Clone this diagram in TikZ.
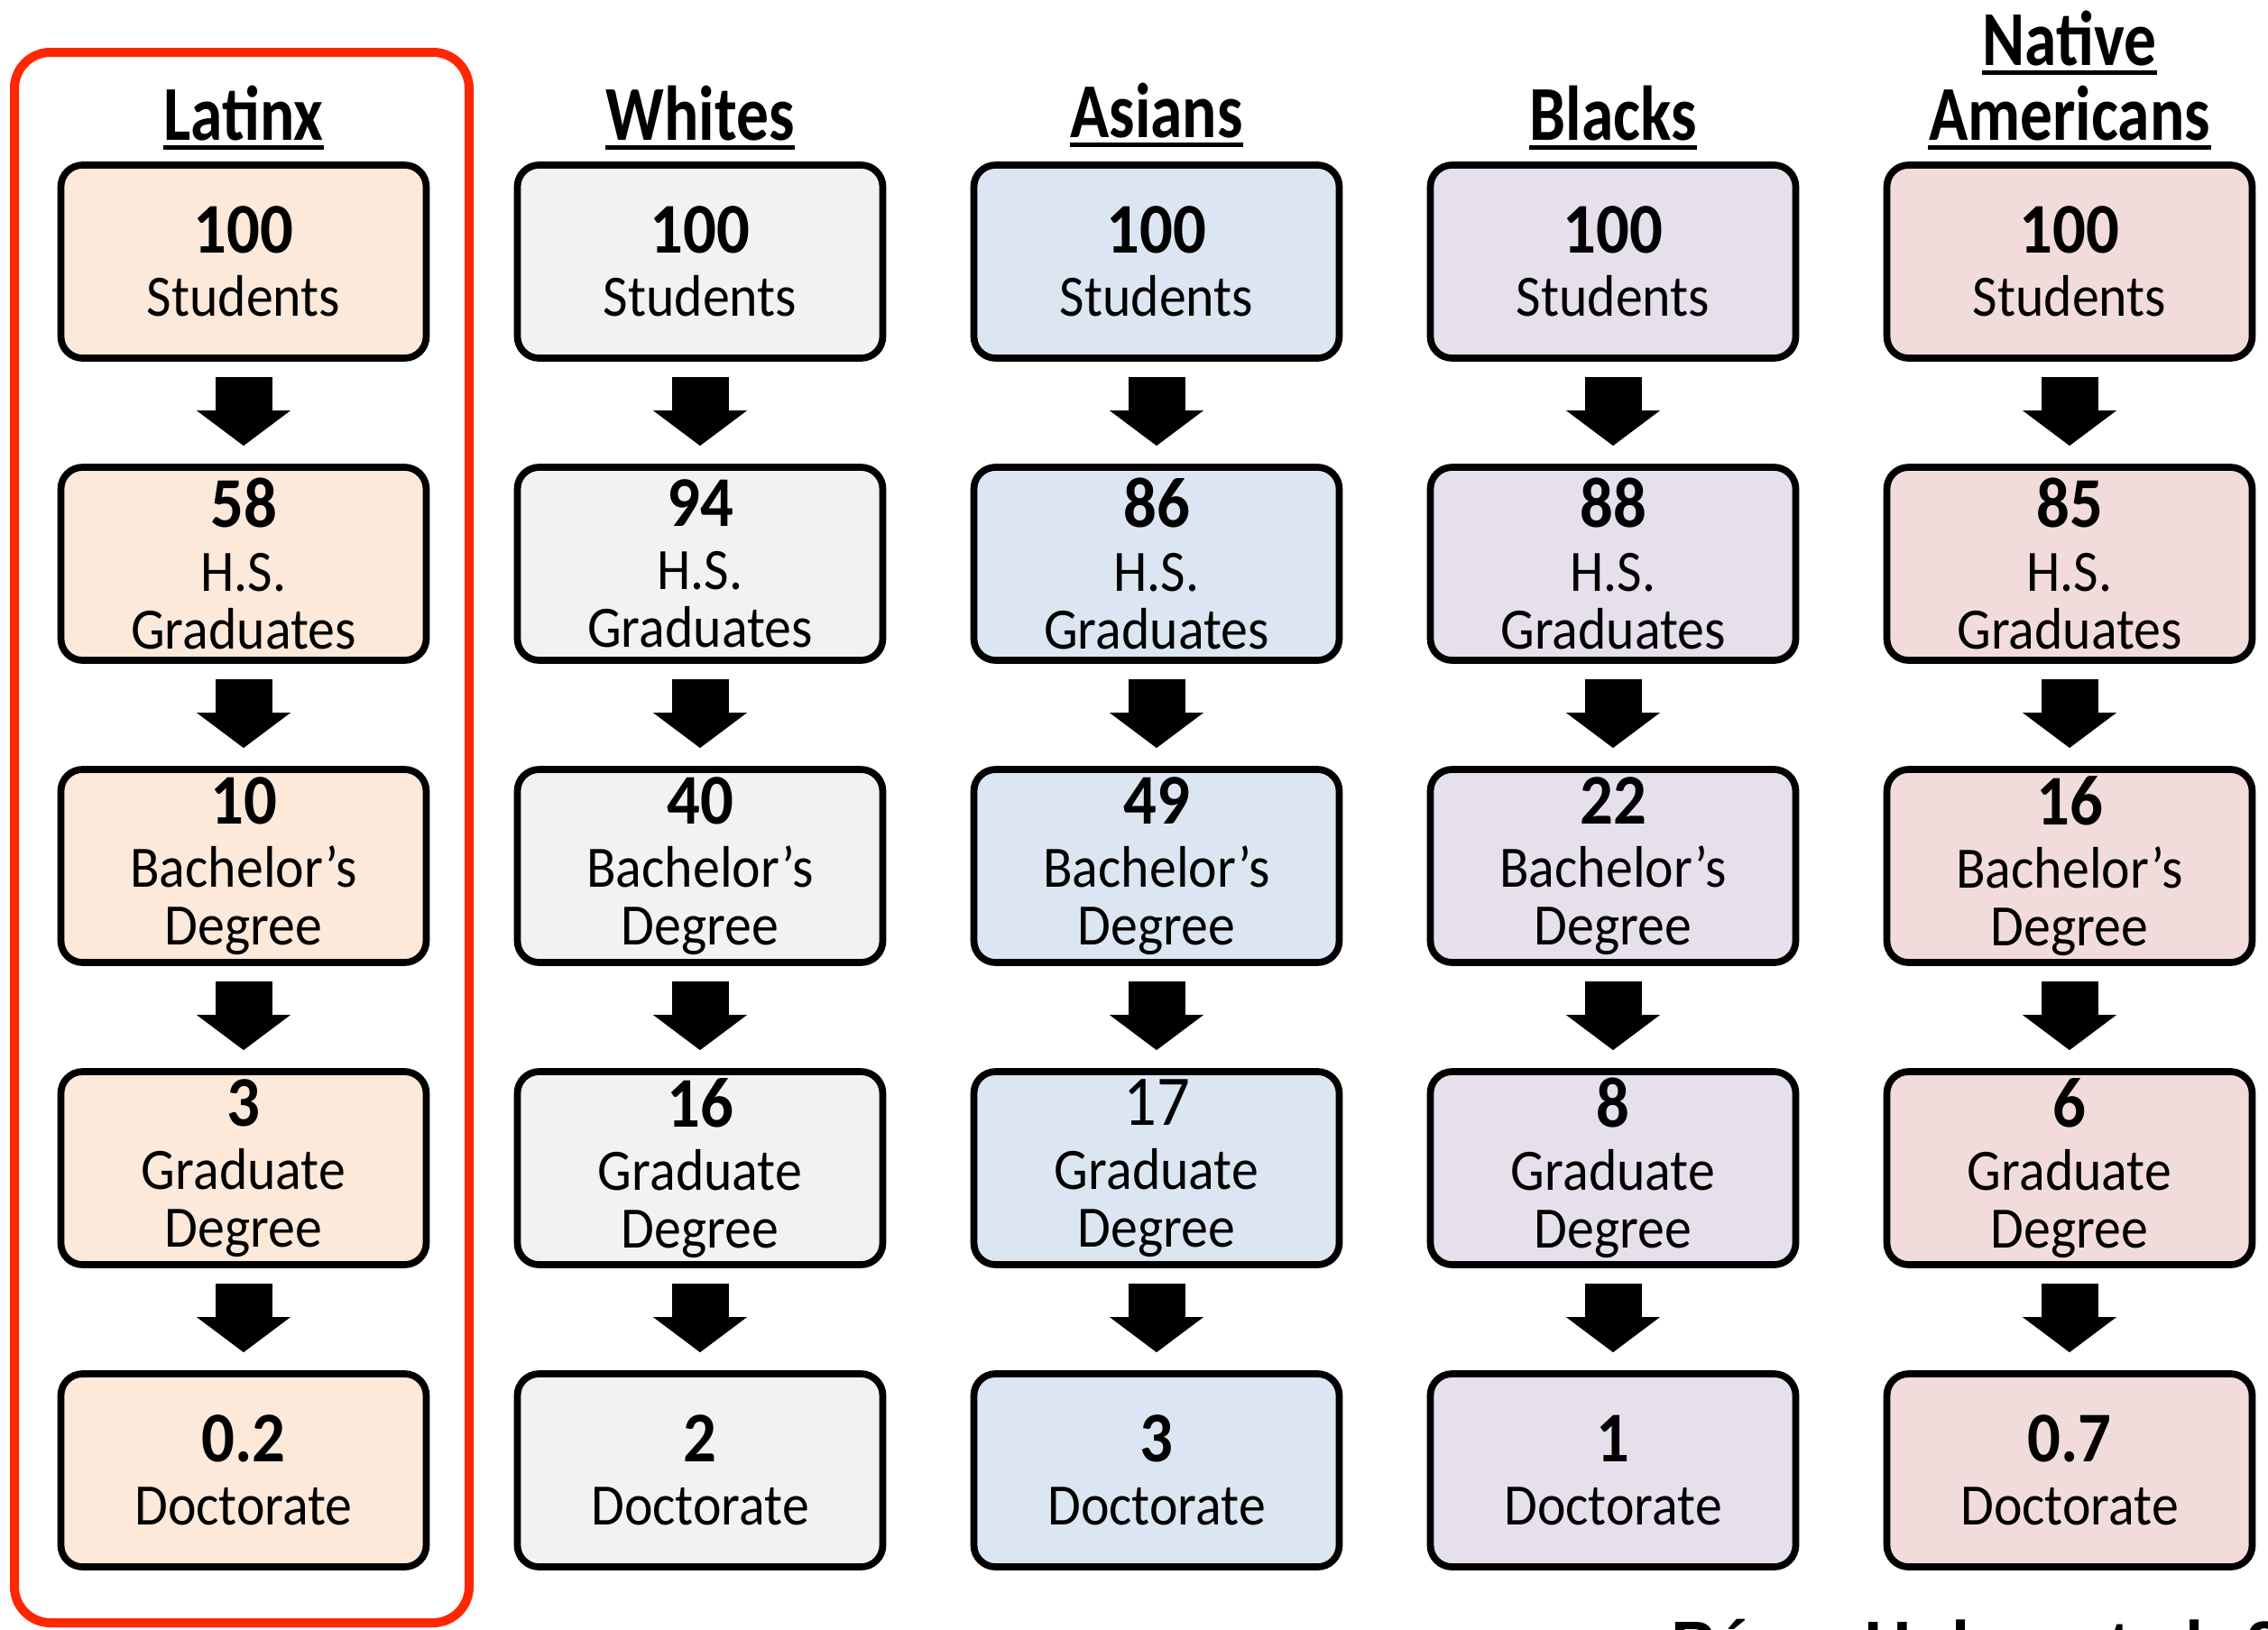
\documentclass[tikz,border=0pt]{standalone}
\usepackage{fontspec}
\usepackage{xcolor}
\usepackage{tikz}
\usetikzlibrary{arrows.meta}

\setmainfont{Carlito}
\newfontfamily\headfont{Carlito}[FakeStretch=0.83]
\newfontfamily\boxfont{Carlito}[FakeStretch=0.92]
\newfontfamily\citefont{Liberation Sans}

\definecolor{latinxfill}{HTML}{FDE9D9}
\definecolor{whitesfill}{HTML}{F2F2F2}
\definecolor{asiansfill}{HTML}{DCE6F2}
\definecolor{blacksfill}{HTML}{E5E0EC}
\definecolor{nativefill}{HTML}{F2DCDB}
\definecolor{highlight}{HTML}{FF2600}

% number on top, label below
\newcommand{\stagetext}[3][\bfseries]{{\fontsize{22.5}{22.5}\selectfont#1#2}\\[1.8pt]#3}

\begin{document}
\begin{tikzpicture}
			\tikzstyle{stage}=[draw, line width=2.2pt, rounded corners=0.24cm, minimum width=4.05cm, minimum height=2.14cm, align=center, inner sep=0pt, font=\boxfont\fontsize{18.5}{18.2}\selectfont]
			\tikzstyle{group}=[inner sep=0pt, anchor=base, font=\headfont\bfseries\fontsize{24.5}{24.5}\selectfont]
			\tikzstyle{source}=[inner sep=0pt, anchor=base west, font=\citefont\bfseries\fontsize{20.7}{20.7}\selectfont]
			\tikzset{flow/.style = {line width=0.63cm, -{Triangle[width=1.04cm,length=0.39cm,line width=0pt]}}}
			\tikzset{underline/.style = {line width=1.4pt}}
			
			\useasboundingbox (0,0) rectangle (25.14,-18.07);
			
			% group headers
			\node[group](latinxhead) at (2.70,-1.55) {Latinx};
			\node[group](whiteshead) at (7.76,-1.55) {Whites};
			\node[group](asianshead) at (12.82,-1.52) {Asians};
			\node[group](blackshead) at (17.88,-1.55) {Blacks};
			\node[group](nativehead) at (22.94,-0.72) {Native};
			\node[group](americanshead) at (22.94,-1.55) {Americans};
			\draw[underline]([yshift=-2.4pt]latinxhead.base west) to ([yshift=-2.4pt]latinxhead.base east);
			\draw[underline]([yshift=-2.4pt]whiteshead.base west) to ([yshift=-2.4pt]whiteshead.base east);
			\draw[underline]([yshift=-2.4pt]asianshead.base west) to ([yshift=-2.4pt]asianshead.base east);
			\draw[underline]([yshift=-2.4pt]blackshead.base west) to ([yshift=-2.4pt]blackshead.base east);
			\draw[underline]([yshift=-2.4pt]nativehead.base west) to ([yshift=-2.4pt]nativehead.base east);
			\draw[underline]([yshift=-2.4pt]americanshead.base west) to ([yshift=-2.4pt]americanshead.base east);
			
			% Latinx
			\node[stage, fill=latinxfill](latinx1) at (2.70,-2.90) {\stagetext{100}{Students}};
			\node[stage, fill=latinxfill](latinx2) at (2.70,-6.25) {\stagetext{58}{H.S.\\Graduates}};
			\node[stage, fill=latinxfill](latinx3) at (2.70,-9.60) {\stagetext{10}{Bachelor’s\\Degree}};
			\node[stage, fill=latinxfill](latinx4) at (2.70,-12.95) {\stagetext{3}{Graduate\\Degree}};
			\node[stage, fill=latinxfill](latinx5) at (2.70,-16.30) {\stagetext{0.2}{Doctorate}};
			\draw[flow]([yshift=-0.17cm]latinx1.south) to ([yshift=0.20cm]latinx2.north);
			\draw[flow]([yshift=-0.17cm]latinx2.south) to ([yshift=0.20cm]latinx3.north);
			\draw[flow]([yshift=-0.17cm]latinx3.south) to ([yshift=0.20cm]latinx4.north);
			\draw[flow]([yshift=-0.17cm]latinx4.south) to ([yshift=0.20cm]latinx5.north);
			
			% Whites
			\node[stage, fill=whitesfill](whites1) at (7.76,-2.90) {\stagetext{100}{Students}};
			\node[stage, fill=whitesfill](whites2) at (7.76,-6.25) {\stagetext{94}{H.S.\\Graduates}};
			\node[stage, fill=whitesfill](whites3) at (7.76,-9.60) {\stagetext{40}{Bachelor’s\\Degree}};
			\node[stage, fill=whitesfill](whites4) at (7.76,-12.95) {\stagetext{16}{Graduate\\Degree}};
			\node[stage, fill=whitesfill](whites5) at (7.76,-16.30) {\stagetext{2}{Doctorate}};
			\draw[flow]([yshift=-0.17cm]whites1.south) to ([yshift=0.20cm]whites2.north);
			\draw[flow]([yshift=-0.17cm]whites2.south) to ([yshift=0.20cm]whites3.north);
			\draw[flow]([yshift=-0.17cm]whites3.south) to ([yshift=0.20cm]whites4.north);
			\draw[flow]([yshift=-0.17cm]whites4.south) to ([yshift=0.20cm]whites5.north);
			
			% Asians
			\node[stage, fill=asiansfill](asians1) at (12.82,-2.90) {\stagetext{100}{Students}};
			\node[stage, fill=asiansfill](asians2) at (12.82,-6.25) {\stagetext{86}{H.S.\\Graduates}};
			\node[stage, fill=asiansfill](asians3) at (12.82,-9.60) {\stagetext{49}{Bachelor’s\\Degree}};
			\node[stage, fill=asiansfill](asians4) at (12.82,-12.95) {\stagetext[\mdseries]{17}{Graduate\\Degree}};
			\node[stage, fill=asiansfill](asians5) at (12.82,-16.30) {\stagetext{3}{Doctorate}};
			\draw[flow]([yshift=-0.17cm]asians1.south) to ([yshift=0.20cm]asians2.north);
			\draw[flow]([yshift=-0.17cm]asians2.south) to ([yshift=0.20cm]asians3.north);
			\draw[flow]([yshift=-0.17cm]asians3.south) to ([yshift=0.20cm]asians4.north);
			\draw[flow]([yshift=-0.17cm]asians4.south) to ([yshift=0.20cm]asians5.north);
			
			% Blacks
			\node[stage, fill=blacksfill](blacks1) at (17.88,-2.90) {\stagetext{100}{Students}};
			\node[stage, fill=blacksfill](blacks2) at (17.88,-6.25) {\stagetext{88}{H.S.\\Graduates}};
			\node[stage, fill=blacksfill](blacks3) at (17.88,-9.60) {\stagetext{22}{Bachelor’s\\Degree}};
			\node[stage, fill=blacksfill](blacks4) at (17.88,-12.95) {\stagetext{8}{Graduate\\Degree}};
			\node[stage, fill=blacksfill](blacks5) at (17.88,-16.30) {\stagetext{1}{Doctorate}};
			\draw[flow]([yshift=-0.17cm]blacks1.south) to ([yshift=0.20cm]blacks2.north);
			\draw[flow]([yshift=-0.17cm]blacks2.south) to ([yshift=0.20cm]blacks3.north);
			\draw[flow]([yshift=-0.17cm]blacks3.south) to ([yshift=0.20cm]blacks4.north);
			\draw[flow]([yshift=-0.17cm]blacks4.south) to ([yshift=0.20cm]blacks5.north);
			
			% Native Americans
			\node[stage, fill=nativefill](native1) at (22.94,-2.90) {\stagetext{100}{Students}};
			\node[stage, fill=nativefill](native2) at (22.94,-6.25) {\stagetext{85}{H.S.\\Graduates}};
			\node[stage, fill=nativefill](native3) at (22.94,-9.60) {\stagetext{16}{Bachelor’s\\Degree}};
			\node[stage, fill=nativefill](native4) at (22.94,-12.95) {\stagetext{6}{Graduate\\Degree}};
			\node[stage, fill=nativefill](native5) at (22.94,-16.30) {\stagetext{0.7}{Doctorate}};
			\draw[flow]([yshift=-0.17cm]native1.south) to ([yshift=0.20cm]native2.north);
			\draw[flow]([yshift=-0.17cm]native2.south) to ([yshift=0.20cm]native3.north);
			\draw[flow]([yshift=-0.17cm]native3.south) to ([yshift=0.20cm]native4.north);
			\draw[flow]([yshift=-0.17cm]native4.south) to ([yshift=0.20cm]native5.north);
			
			% highlight round the Latinx column
			\draw[highlight, line width=0.1cm, rounded corners=0.4cm] (0.16,-0.58) rectangle (5.20,-17.99);
			
			\begin{scope}
			\clip (0,0) rectangle (25.14,-18.07);
			\node[source](citation) at (18.52,-18.48) {Pérez Huber et al. 2};
			\end{scope}
			
\end{tikzpicture}
\end{document}
